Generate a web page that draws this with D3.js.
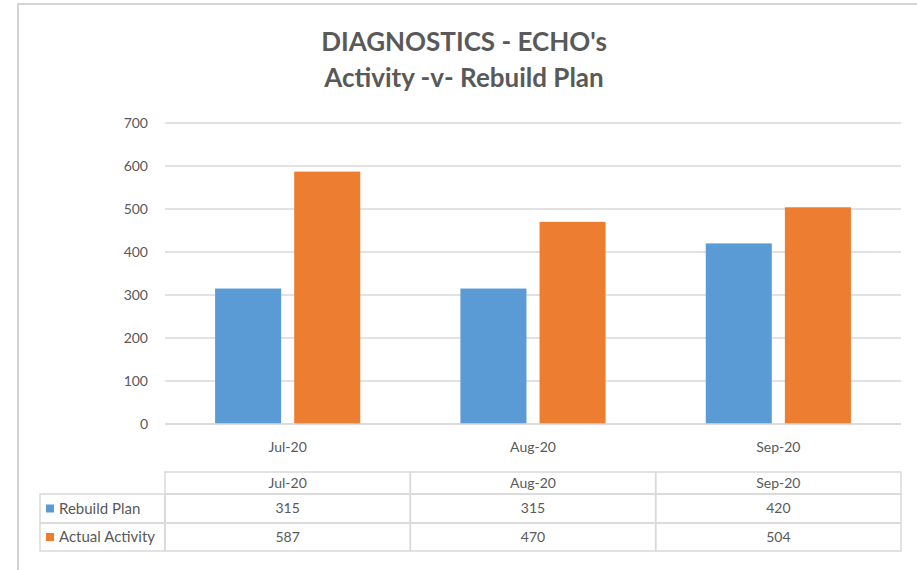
<!DOCTYPE html>
<meta charset="utf-8">
<style>
body { margin: 0; background: #fff; }
text { font-family: Lato, "Open Sans", sans-serif; fill: #595959; }
.grid line { stroke: #d9d9d9; stroke-width: 1.3px; }
.cell { fill: none; stroke: #d9d9d9; stroke-width: 1.5px; }
</style>
<svg width="917" height="570"></svg>
<script src="https://cdn.jsdelivr.net/npm/d3@7"></script>
<script>

var months = ["Jul-20", "Aug-20", "Sep-20"];
var seriesNames = ["Rebuild Plan", "Actual Activity"];
var rebuildPlan = [315, 315, 420];
var actualActivity = [587, 470, 504];
var colors = ["#5b9bd5", "#ed7d31"];
var yTicks = [0, 100, 200, 300, 400, 500, 600, 700];

var svg = d3.select("svg");

// chart frame
svg.append("rect")
    .attr("x", 18).attr("y", 4)
    .attr("width", 940).attr("height", 600)
    .attr("fill", "#fff")
    .attr("stroke", "#d4d4d4")
    .attr("stroke-width", 2);

var title = svg.append("text")
    .attr("text-anchor", "middle")
    .style("font-weight", "bold")
    .style("font-size", "26px");
title.append("tspan").attr("x", 464).attr("y", 51).text("DIAGNOSTICS - ECHO's");
title.append("tspan").attr("x", 464).attr("y", 87).text("Activity -v- Rebuild Plan");

var plotLeft = 165, plotRight = 901, plotTop = 123, plotBottom = 424;

var x0 = d3.scaleBand().domain(months).range([plotLeft, plotRight]).padding(0);
var x1 = d3.scaleBand().domain(seriesNames)
    .range([0, x0.bandwidth()])
    .paddingInner(0.165).paddingOuter(0.633);
var y = d3.scaleLinear().domain([0, 700]).range([plotBottom, plotTop]);

// gridlines
svg.append("g").attr("class", "grid")
  .selectAll("line")
  .data(yTicks)
  .enter().append("line")
    .attr("x1", plotLeft).attr("x2", plotRight)
    .attr("y1", function(d) { return y(d); })
    .attr("y2", function(d) { return y(d); });

// y labels
svg.append("g")
  .selectAll("text")
  .data(yTicks)
  .enter().append("text")
    .attr("x", 148)
    .attr("y", function(d) { return y(d); })
    .attr("dy", "0.35em")
    .attr("text-anchor", "end")
    .style("font-size", "14px")
    .text(function(d) { return d; });

var rows = months.map(function(m, i) {
  return { month: m, values: [rebuildPlan[i], actualActivity[i]] };
});

var group = svg.append("g")
  .selectAll("g")
  .data(rows)
  .enter().append("g")
    .attr("transform", function(d) { return "translate(" + x0(d.month) + ",0)"; });

group.selectAll("rect")
  .data(function(d) { return d.values.map(function(v, i) { return { name: seriesNames[i], value: v, i: i }; }); })
  .enter().append("rect")
    .attr("x", function(d) { return x1(d.name); })
    .attr("width", x1.bandwidth())
    .attr("y", function(d) { return y(d.value); })
    .attr("height", function(d) { return y(0) - y(d.value); })
    .attr("fill", function(d) { return colors[d.i]; });

// baseline above bars
svg.append("line")
    .attr("x1", plotLeft).attr("x2", plotRight)
    .attr("y1", y(0)).attr("y2", y(0))
    .attr("stroke", "#d9d9d9").attr("stroke-width", 1.3);

// category labels
svg.append("g")
  .selectAll("text")
  .data(months)
  .enter().append("text")
    .attr("x", function(d) { return x0(d) + x0.bandwidth() / 2; })
    .attr("y", 452)
    .attr("text-anchor", "middle")
    .style("font-size", "14px")
    .text(function(d) { return d; });

// data table
var tTop = 472, rowH = [22, 29, 28];
var rowY = [tTop, tTop + rowH[0], tTop + rowH[0] + rowH[1], tTop + rowH[0] + rowH[1] + rowH[2]];
var table = svg.append("g");

months.forEach(function(m) {
  for (var r = 0; r < 3; r++) {
    table.append("rect").attr("class", "cell")
      .attr("x", x0(m)).attr("y", rowY[r])
      .attr("width", x0.bandwidth()).attr("height", rowY[r + 1] - rowY[r]);
  }
});

seriesNames.forEach(function(s, i) {
  table.append("rect").attr("class", "cell")
    .attr("x", 40).attr("y", rowY[i + 1])
    .attr("width", plotLeft - 40).attr("height", rowY[i + 2] - rowY[i + 1]);
  var cy = (rowY[i + 1] + rowY[i + 2]) / 2;
  table.append("rect")
    .attr("x", 46).attr("y", cy - 4)
    .attr("width", 8).attr("height", 8)
    .attr("fill", colors[i]);
  table.append("text")
    .attr("x", 59).attr("y", cy).attr("dy", "0.35em")
    .style("font-size", "15px")
    .text(s);
});

table.selectAll("text.head")
  .data(months)
  .enter().append("text")
    .attr("class", "head")
    .attr("x", function(d) { return x0(d) + x0.bandwidth() / 2; })
    .attr("y", (rowY[0] + rowY[1]) / 2).attr("dy", "0.35em")
    .attr("text-anchor", "middle")
    .style("font-size", "14px")
    .text(function(d) { return d; });

rows.forEach(function(d) {
  d.values.forEach(function(v, i) {
    table.append("text")
      .attr("x", x0(d.month) + x0.bandwidth() / 2)
      .attr("y", (rowY[i + 1] + rowY[i + 2]) / 2).attr("dy", "0.35em")
      .attr("text-anchor", "middle")
      .style("font-size", "14px")
      .text(v);
  });
});

</script>
